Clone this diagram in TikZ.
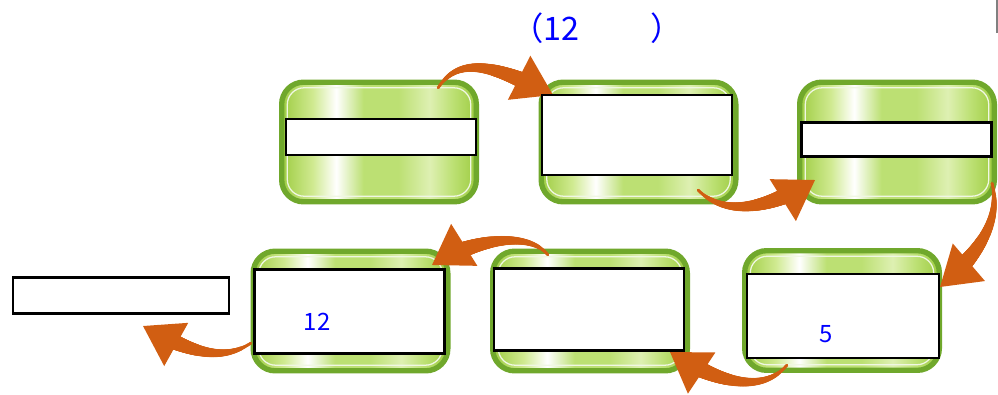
\documentclass[tikz,border=0pt]{standalone}
\usepackage{fontspec}
\newfontfamily\cjk{Noto Sans CJK SC}
\usetikzlibrary{arrows.meta,decorations.markings}

\definecolor{pilfarve}{RGB}{209,94,18}
\definecolor{kant}{RGB}{112,168,44}
\definecolor{gA}{RGB}{158,204,66}
\definecolor{gB}{RGB}{208,234,145}
\definecolor{gC}{RGB}{188,224,115}
\definecolor{gD}{RGB}{222,240,178}
\pgfdeclarehorizontalshading{glans}{100bp}{color(0bp)=(gA); color(25bp)=(gA); color(33bp)=(gB); color(39bp)=(white); color(46bp)=(gC); color(55bp)=(gC); color(63bp)=(gD); color(69bp)=(gC); color(75bp)=(gA); color(100bp)=(gA)}

\begin{document}
\begin{tikzpicture}[x=0.025cm,y=-0.025cm,
  kasse/.style={draw=kant, line width=3.8pt, rounded corners=0.55cm, shading=glans,
    minimum width=4.865cm, minimum height=2.99cm, inner sep=0pt,
    path picture={\draw[white!85!gA, line width=0.9pt, rounded corners=0.42cm]
      ([shift={(0.14cm,-0.14cm)}]path picture bounding box.north west) rectangle
      ([shift={(-0.14cm,0.14cm)}]path picture bounding box.south east);}},
  felt/.style={draw=black, line width=1.8pt, fill=white, inner sep=0pt},
  pil/.style={pilfarve, line width=2pt, -{Triangle[length=0.95cm,width=1.22cm]},
    postaction={decorate, decoration={markings,
      mark=between positions 0 and -0.8cm step 0.5pt with {
        \pgfmathsetmacro\rad{0.8+6.6*\pgfkeysvalueof{/pgf/decoration/mark info/distance from start}/\pgfdecoratedpathlength}
        \fill[pilfarve] (0,0) circle (\rad pt);}}}},
  tal/.style={blue, font=\cjk\fontsize{17}{20}\selectfont}]

  \useasboundingbox (0,0) rectangle (998,394);

  % titel
	\node[blue, font=\cjk\fontsize{23}{27}\selectfont] (titel) at (597,28) {（12\hspace{2.2em}）};
	\draw[gray, line width=1.4pt] (997,0) -- (997,33);

  % groenne kasser
	\node[kasse] (g1) at (379,142) {};
	\node[kasse] (g2) at (638.5,142) {};
	\node[kasse] (g3) at (897,142) {};
	\node[kasse] (g4) at (842,310.5) {};
	\node[kasse] (g5) at (590,311) {};
	\node[kasse] (g6) at (350.5,311) {};

  % pile
	\coordinate (spids) at (143,326);
	\draw[pil] ([shift={(59,-54)}]g1.center) .. controls +(22,-34) and +(-55,-28) .. ([shift={(-85.5,-47)}]g2.center);
	\draw[pil] ([shift={(59.5,48)}]g2.center) .. controls +(30,30) and +(-40,25) .. ([shift={(-82,38)}]g3.center);
	\draw[pil] ([shift={(95,41)}]g3.center) .. controls +(10,40) and +(35,-30) .. ([shift={(98,-23.5)}]g4.center);
	\draw[pil] ([shift={(-55,54.5)}]g4.center) .. controls +(-25,30) and +(45,30) .. ([shift={(80,41)}]g5.center);
	\draw[pil] ([shift={(-42,-56)}]g5.center) .. controls +(-20,-25) and +(40,-25) .. ([shift={(81.5,-46)}]g6.center);
	\draw[pil] ([shift={(-99.5,32)}]g6.center) .. controls +(-30,20) and +(45,25) .. (spids);

  % hvide felter
	\node[felt, minimum width=4.74cm, minimum height=0.89cm] (f1) at (381,137) {};
	\node[felt, minimum width=4.74cm, minimum height=1.99cm] (f2) at (637,135) {};
	\node[felt, minimum width=4.76cm, minimum height=0.86cm] (f3) at (896.5,139.5) {};
	\node[felt, minimum width=4.79cm, minimum height=2.09cm] (f4) at (843,316) {};
	\node[felt, minimum width=4.74cm, minimum height=2.06cm] (f5) at (589,309.5) {};
	\node[felt, minimum width=4.76cm, minimum height=2.11cm] (f6) at (349.5,311.5) {};
	\node[felt, minimum width=5.39cm, minimum height=0.91cm] (f7) at (121,295.5) {};

  % tal
	\node[tal] (t12) at (317,321.5) {12};
	\node[tal] (t5) at (826,334.5) {5};

\end{tikzpicture}
\end{document}
